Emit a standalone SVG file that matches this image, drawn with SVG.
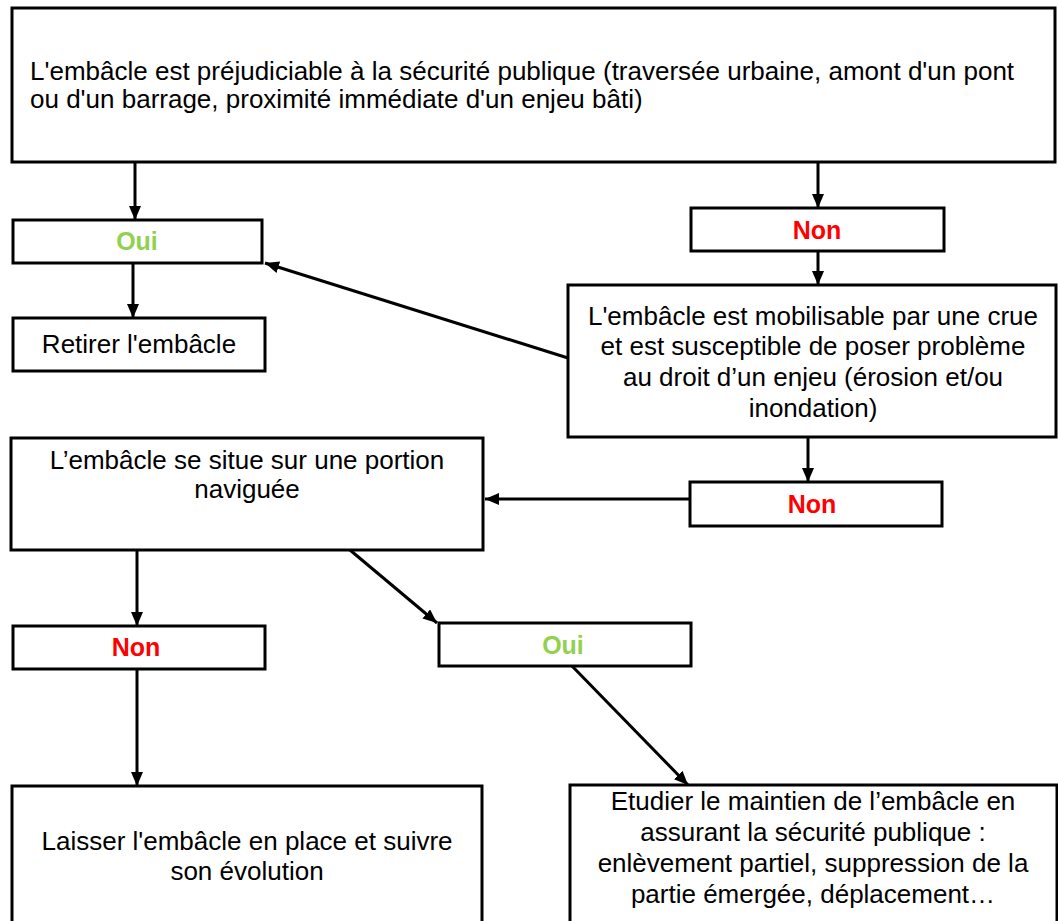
<svg xmlns="http://www.w3.org/2000/svg" width="1058" height="921" viewBox="0 0 1058 921">
<style>
.box{fill:#fff;stroke:#000;stroke-width:3}
.t{font-family:"Liberation Sans",Arial,sans-serif;font-size:26px;fill:#000}
.c{text-anchor:middle}
.lbl{font-family:"Liberation Sans",Arial,sans-serif;font-size:25px;font-weight:bold;text-anchor:middle}
.oui{fill:#92D050}
.non{fill:#FF0000}
.con{stroke:#000;stroke-width:3;fill:none;marker-end:url(#ah)}
</style>
<defs>
<marker id="ah" viewBox="0 0 14 12" refX="14" refY="6" markerWidth="14" markerHeight="12" orient="auto" markerUnits="userSpaceOnUse">
<path d="M0,0 L14,6 L0,12 z" fill="#000"/>
</marker>
</defs>
<rect width="1058" height="921" fill="#fff"/>
<g id="connectors">
<path class="con" d="M135,162 L135,220"/>
<path class="con" d="M818,162 L818,208"/>
<path class="con" d="M818,251 L818,285"/>
<path class="con" d="M568,358 L265,263"/>
<path class="con" d="M133,263 L133,318"/>
<path class="con" d="M808,437 L808,482"/>
<path class="con" d="M690,499 L485,499"/>
<path class="con" d="M137,550 L137,626"/>
<path class="con" d="M350,550 L437,623"/>
<path class="con" d="M137,669 L137,786"/>
<path class="con" d="M572,666 L688,785"/>
</g>
<g id="n-securite">
<rect class="box" x="12" y="8" width="1043" height="154"/>
<text class="t" x="30" y="80">L'embâcle est préjudiciable à la sécurité publique (traversée urbaine, amont d'un pont</text>
<text class="t" x="30" y="108">ou d'un barrage, proximité immédiate d'un enjeu bâti)</text>
</g>
<g id="n-oui1">
<rect class="box" x="13" y="220" width="249" height="43"/>
<text class="lbl oui" x="137" y="250">Oui</text>
</g>
<g id="n-non1">
<rect class="box" x="691" y="208" width="253" height="43"/>
<text class="lbl non" x="817" y="239">Non</text>
</g>
<g id="n-retirer">
<rect class="box" x="13" y="318" width="252" height="53"/>
<text class="t c" x="139" y="353">Retirer l'embâcle</text>
</g>
<g id="n-mobilisable">
<rect class="box" x="568" y="285" width="488" height="152"/>
<text class="t c" x="813" y="325">L'embâcle est mobilisable par une crue</text>
<text class="t c" x="813" y="355">et est susceptible de poser problème</text>
<text class="t c" x="813" y="386">au droit d’un enjeu (érosion et/ou</text>
<text class="t c" x="813" y="417">inondation)</text>
</g>
<g id="n-non2">
<rect class="box" x="690" y="482" width="252" height="44"/>
<text class="lbl non" x="812" y="513">Non</text>
</g>
<g id="n-portion">
<rect class="box" x="11" y="438" width="472" height="112"/>
<text class="t c" x="247" y="469">L’embâcle se situe sur une portion</text>
<text class="t c" x="247" y="498">naviguée</text>
</g>
<g id="n-non3">
<rect class="box" x="13" y="626" width="252" height="43"/>
<text class="lbl non" x="136" y="656">Non</text>
</g>
<g id="n-oui2">
<rect class="box" x="439" y="623" width="252" height="43"/>
<text class="lbl oui" x="563" y="654">Oui</text>
</g>
<g id="n-laisser">
<rect class="box" x="12" y="786" width="470" height="150"/>
<text class="t c" x="247" y="850">Laisser l'embâcle en place et suivre</text>
<text class="t c" x="247" y="880">son évolution</text>
</g>
<g id="n-etudier">
<rect class="box" x="570" y="785" width="487" height="150"/>
<text class="t c" x="813" y="810">Etudier le maintien de l’embâcle en</text>
<text class="t c" x="813" y="841">assurant la sécurité publique :</text>
<text class="t c" x="813" y="872">enlèvement partiel, suppression de la</text>
<text class="t c" x="813" y="903">partie émergée, déplacement…</text>
</g>
</svg>
